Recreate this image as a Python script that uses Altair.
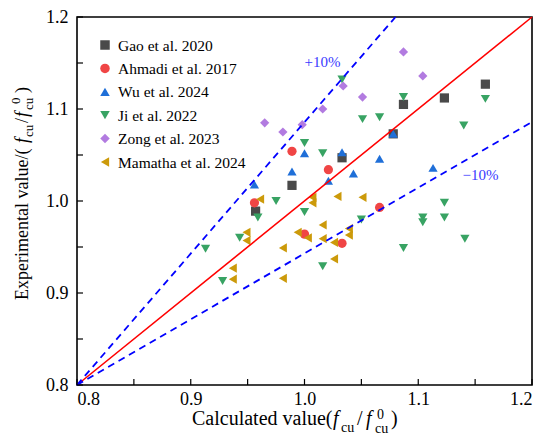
import altair as alt
import pandas as pd

series = ["Gao et al. 2020", "Ahmadi et al. 2017", "Wu et al. 2024",
          "Ji et al. 2022", "Zong et al. 2023", "Mamatha et al. 2024"]
colors = ["#4a4a4a", "#f04545", "#1f6fd8", "#38a363", "#b27be0", "#cc9a0a"]
shapes = ["square", "circle", "triangle-up", "triangle-down", "diamond", "triangle-left"]

gao_x = [0.957, 0.989, 1.033, 1.078, 1.087, 1.123, 1.159]
gao_y = [0.989, 1.017, 1.047, 1.073, 1.105, 1.112, 1.127]

ahmadi_x = [0.956, 0.989, 1.021, 1.000, 1.033, 1.066]
ahmadi_y = [0.998, 1.054, 1.034, 0.964, 0.954, 0.993]

wu_x = [0.956, 0.989, 1.000, 1.021, 1.033, 1.043, 1.066, 1.078, 1.113]
wu_y = [1.018, 1.032, 1.052, 1.022, 1.053, 1.030, 1.046, 1.073, 1.036]

ji_x = [0.913, 0.928, 0.943, 0.959, 0.975, 1.000, 1.000, 1.016, 1.016, 1.050, 1.033,
        1.051, 1.066, 1.087, 1.087, 1.104, 1.104, 1.123, 1.123, 1.141, 1.140, 1.159]
ji_y = [0.948, 0.913, 0.960, 0.982, 1.000, 0.988, 1.063, 1.052, 0.929, 0.980, 1.132,
        1.089, 1.091, 1.113, 0.949, 0.982, 0.977, 0.998, 0.982, 0.959, 1.082, 1.111]

zong_x = [0.965, 0.981, 0.998, 1.016, 1.034, 1.051, 1.087, 1.104]
zong_y = [1.085, 1.075, 1.083, 1.100, 1.125, 1.113, 1.162, 1.136]

mamatha_x = [0.961, 0.949, 0.949, 0.937, 0.937, 0.981, 0.981, 0.994, 1.003, 1.007,
             1.007, 1.016, 1.016, 1.026, 1.026, 1.029, 1.039, 1.039, 1.051]
mamatha_y = [1.002, 0.966, 0.957, 0.927, 0.915, 0.949, 0.916, 0.966, 0.960, 1.004,
             0.998, 0.974, 0.959, 0.955, 0.937, 1.005, 0.970, 0.963, 1.004]

major_ticks = [0.8, 0.9, 1.0, 1.1, 1.2]
all_ticks = [0.8, 0.85, 0.9, 0.95, 1.0, 1.05, 1.1, 1.15, 1.2]

equal_x = [0.8, 1.2]
equal_y = [0.8, 1.2]
upper_x = [0.8, 1.08]
upper_y = [0.8, 1.2]
lower_x = [0.8, 1.2]
lower_y = [0.8, 1.086]

xs = [gao_x, ahmadi_x, wu_x, ji_x, zong_x, mamatha_x]
ys = [gao_y, ahmadi_y, wu_y, ji_y, zong_y, mamatha_y]
rows = []
for name, sx, sy in zip(series, xs, ys):
    for a, b in zip(sx, sy):
        rows.append({"calc": a, "exp": b, "series": name})
df = pd.DataFrame(rows)

FONT = "Liberation Serif"
W, H = 455, 368

xscale = alt.Scale(domain=[0.8, 1.2], nice=False, zero=False)
yscale = alt.Scale(domain=[0.8, 1.2], nice=False, zero=False)
xaxis = alt.Axis(values=major_ticks, format=".1f", title=None, ticks=False, tickSize=0,
                 domain=False, grid=False, labelPadding=5, labelFont=FONT,
                 labelFontSize=18, labelColor="black")
yaxis = alt.Axis(values=major_ticks, format=".1f", title=None, ticks=False, tickSize=0,
                 domain=False, grid=False, labelPadding=9, labelFont=FONT,
                 labelFontSize=18, labelColor="black")

def X(field):
    return alt.X(f"{field}:Q", scale=xscale, axis=xaxis)

def Y(field):
    return alt.Y(f"{field}:Q", scale=yscale, axis=yaxis)

points = alt.Chart(df).mark_point(filled=True, opacity=1, size=85).encode(
    x=X("calc"), y=Y("exp"),
    color=alt.Color("series:N", scale=alt.Scale(domain=series, range=colors), legend=None),
    shape=alt.Shape("series:N", scale=alt.Scale(domain=series, range=shapes), legend=None),
)

def line_chart(lx, ly, **kw):
    d = pd.DataFrame({"calc": lx, "exp": ly})
    return alt.Chart(d).mark_line(**kw).encode(x=X("calc"), y=Y("exp"))

red = line_chart(equal_x, equal_y, color="#ff0000", strokeWidth=1.6)
upper = line_chart(upper_x, upper_y, color="#0000ff", strokeWidth=1.8, strokeDash=[7, 5])
lower = line_chart(lower_x, lower_y, color="#0000ff", strokeWidth=1.8, strokeDash=[7, 5])

xt = alt.Chart(pd.DataFrame({"calc": all_ticks})).mark_rule(color="black", strokeWidth=1.2).encode(
    x=X("calc"), y=alt.value(H), y2=alt.value(H - 6))
yt = alt.Chart(pd.DataFrame({"exp": all_ticks})).mark_rule(color="black", strokeWidth=1.2).encode(
    y=Y("exp"), x=alt.value(0), x2=alt.value(6))

one = pd.DataFrame({"k": [0]})

def txt(text, x, y, size, italic=False, angle=0, color="black", baseline="alphabetic"):
    kw = dict(text=text, font=FONT, fontSize=size, color=color, align="left",
              baseline=baseline)
    if italic:
        kw["fontStyle"] = "italic"
    if angle:
        kw["angle"] = angle
    return alt.Chart(one).mark_text(**kw).encode(x=alt.value(x), y=alt.value(y))

# legend drawn by hand (symbol + label per series)
legend_layers = []
for i, (name, col, shp) in enumerate(zip(series, colors, shapes)):
    yy = 28 + 23.4 * i
    legend_layers.append(
        alt.Chart(one).mark_point(shape=shp, filled=True, color=col, opacity=1, size=90)
        .encode(x=alt.value(28), y=alt.value(yy))
    )
    legend_layers.append(txt(name, 41, yy + 5.5, 15.5))

pct_hi = alt.Chart(pd.DataFrame({"calc": [1.0], "exp": [1.146]})).mark_text(
    text="+10%", font=FONT, fontSize=15, color="#3a3aff", align="left", baseline="alphabetic"
).encode(x=X("calc"), y=Y("exp"))
pct_lo = alt.Chart(pd.DataFrame({"calc": [1.139], "exp": [1.023]})).mark_text(
    text="\u221210%", font=FONT, fontSize=15, color="#3a3aff", align="left", baseline="alphabetic"
).encode(x=X("calc"), y=Y("exp"))

xtitle = [
    txt("Calculated value(", 115, 408, 20),
    txt("f", 256, 408, 20, italic=True),
    txt("cu", 264, 415, 14),
    txt("/", 280, 408, 20),
    txt("f", 289, 408, 20, italic=True),
    txt("0", 300, 402, 14),
    txt("cu", 298, 416, 14),
    txt(")", 314, 408, 20),
]
ytitle = [
    txt("Experimental value/(", -49, 283, 18, angle=270),
    txt("f", -49, 126, 18, italic=True, angle=270),
    txt("cu", -44, 120, 13, angle=270),
    txt("/", -49, 106, 18, angle=270),
    txt("f", -49, 100, 18, italic=True, angle=270),
    txt("0", -57, 87, 13, angle=270),
    txt("cu", -44, 93, 13, angle=270),
    txt(")", -49, 76, 18, angle=270),
]

chart = alt.layer(points, red, upper, lower, xt, yt, pct_hi, pct_lo,
                  *legend_layers, *xtitle, *ytitle).properties(
    width=W, height=H,
    padding={"left": 69, "top": 9, "right": 10, "bottom": 50},
    autosize=alt.AutoSizeParams(type="none"),
    background="white",
).configure(font=FONT).configure_view(stroke="black", strokeWidth=1.6, fill="white")

chart.save("out.html", embed_options={"renderer": "svg", "actions": False})
